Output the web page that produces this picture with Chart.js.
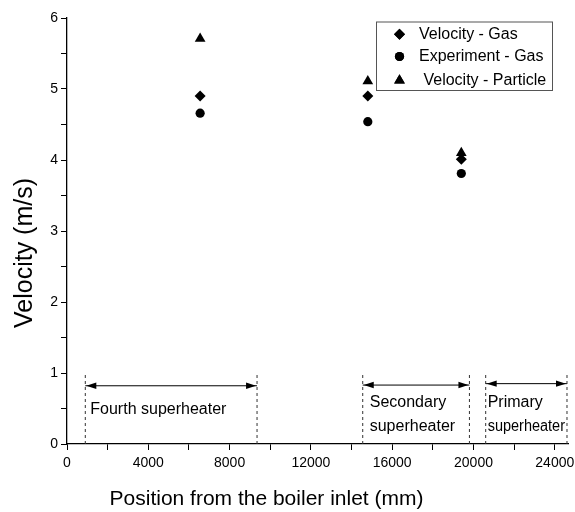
<!DOCTYPE html>
<html><head><meta charset="utf-8">
<script src="https://cdn.jsdelivr.net/npm/chart.js@4/dist/chart.umd.min.js"></script>
<style>html,body{margin:0;padding:0;background:#fff}#wrap{width:575px;height:512px}</style>
</head><body><div id="wrap"><canvas id="c" width="575" height="512"></canvas></div>
<script>
// ---- data ----
const xPositions = [6550, 14800, 19400];
const velocityGas = [4.90, 4.90, 4.01];
const experimentGas = [4.66, 4.54, 3.81];
const velocityParticle = [5.71, 5.11, 4.10];
const seriesNames = ['Velocity - Gas', 'Experiment - Gas', ' Velocity - Particle'];
const regionStart = [900, 14550, 20600];
const regionEnd = [9350, 19800, 24600];
const regionArrowY = [0.82, 0.83, 0.85];
const regionLabels = [['Fourth superheater'], ['Secondary', 'superheater'], ['Primary', 'superheater']];
const xTickValues = [0, 2000, 4000, 6000, 8000, 10000, 12000, 14000, 16000, 18000, 20000, 22000, 24000];
const yTickValues = [0, 0.5, 1, 1.5, 2, 2.5, 3, 3.5, 4, 4.5, 5, 5.5, 6];
const xTitle = 'Position from the boiler inlet (mm)';
const yTitle = 'Velocity (m/s)';
const regionLineTop = 1.0;

// ---- styles ----
const FONT = "'Liberation Sans', Arial, Helvetica, sans-serif";
const pointStyles = ['rectRot', 'circle', 'triangle'];
const pointRadii = [5.5, 4.6, 6.2];

const toPts = (ys) => xPositions.map((x, i) => ({x: x, y: ys[i]}));
const seriesData = [velocityGas, experimentGas, velocityParticle];

const datasets = seriesData.map((ys, i) => ({
  type: 'scatter',
  label: seriesNames[i],
  data: toPts(ys),
  pointStyle: pointStyles[i],
  pointRadius: pointRadii[i],
  backgroundColor: '#000',
  borderColor: '#000',
  borderWidth: 0,
  showLine: false
}));

// dashed region boundary lines
[...regionStart, ...regionEnd].forEach((x) => {
  datasets.push({
    type: 'line', label: '', isAnno: true,
    data: [{x: x, y: 0}, {x: x, y: regionLineTop}],
    borderColor: '#333', borderWidth: 1, borderDash: [3, 3],
    pointRadius: 0, fill: false
  });
});
// arrow shafts
regionStart.forEach((s, i) => {
  datasets.push({
    type: 'line', label: '', isAnno: true,
    data: [{x: s, y: regionArrowY[i]}, {x: regionEnd[i], y: regionArrowY[i]}],
    borderColor: '#000', borderWidth: 1, pointRadius: 0, fill: false
  });
});

const annoPlugin = {
  id: 'anno',
  afterDraw(chart) {
    const {ctx, scales: {x, y}} = chart;
    ctx.save();
    ctx.fillStyle = '#000';
    // arrowheads
    regionStart.forEach((s, i) => {
      const yy = y.getPixelForValue(regionArrowY[i]);
      const x1 = x.getPixelForValue(s), x2 = x.getPixelForValue(regionEnd[i]);
      const L = 10, H = 3.2;
      ctx.beginPath(); ctx.moveTo(x1 + 1, yy); ctx.lineTo(x1 + 1 + L, yy - H); ctx.lineTo(x1 + 1 + L, yy + H); ctx.closePath(); ctx.fill();
      ctx.beginPath(); ctx.moveTo(x2 - 1, yy); ctx.lineTo(x2 - 1 - L, yy - H); ctx.lineTo(x2 - 1 - L, yy + H); ctx.closePath(); ctx.fill();
    });
    // region labels
    ctx.font = '16px ' + FONT;
    ctx.textBaseline = 'middle';
    ctx.textAlign = 'left';
    const firstLineY = [0.49, 0.58, 0.58];
    const textOffset = [5, 7, 2];
    regionLabels.forEach((lines, i) => {
      const x0 = x.getPixelForValue(regionStart[i]) + textOffset[i];
      const xEnd = x.getPixelForValue(regionEnd[i]);
      const y0 = y.getPixelForValue(firstLineY[i]);
      lines.forEach((t, k) => ctx.fillText(t, x0, y0 + k * 24, xEnd - x0 - 2));
    });
    // legend box
    const bx = 376, by = 21.5, bw = 176, bh = 68.5;
    ctx.strokeStyle = '#555'; ctx.lineWidth = 1;
    ctx.strokeRect(bx + 0.5, by + 0.5, bw, bh);
    const rowY = [34.3, 56.5, 80.5];
    seriesNames.forEach((name, i) => {
      Chart.helpers.drawPoint(ctx, {pointStyle: pointStyles[i], radius: pointRadii[i], rotation: 0, borderWidth: 0}, 399.5, rowY[i]);
      ctx.fillStyle = '#000';
      ctx.fill();
      ctx.fillText(name, 419, rowY[i]);
    });
    // axis titles
    ctx.textAlign = 'center';
    ctx.font = '21px ' + FONT;
    ctx.fillText(xTitle, 266.5, 499);
    ctx.translate(25, 253);
    ctx.rotate(-Math.PI / 2);
    ctx.font = '25px ' + FONT;
    ctx.fillText(yTitle, 0, 0);
    ctx.restore();
  }
};

new Chart(document.getElementById('c'), {
  data: {datasets: datasets},
  options: {
    responsive: false,
    devicePixelRatio: 1,
    animation: false,
    layout: {padding: {top: 18, right: 7, left: 0, bottom: 0}},
    plugins: {legend: {display: false}, tooltip: {enabled: false}},
    scales: {
      x: {
        type: 'linear', position: 'bottom', min: 0, max: 24650,
        afterBuildTicks: (s) => { s.ticks = xTickValues.map(v => ({value: v})); },
        afterFit: (s) => { s.height = 68; s.paddingLeft = 0; s.paddingRight = 0; },
        grid: {drawOnChartArea: false, tickLength: 6, color: '#000', tickWidth: 1},
        border: {color: '#000', width: 1.3},
        ticks: {
          autoSkip: false, maxRotation: 0, padding: 5, color: '#000',
          font: {family: FONT, size: 14},
          callback: (v) => (v % 4000 === 0 ? String(v) : '')
        },
        title: {display: false}
      },
      y: {
        type: 'linear', min: 0, max: 6,
        afterBuildTicks: (s) => { s.ticks = yTickValues.map(v => ({value: v})); },
        afterFit: (s) => { s.width = 67; },
        grid: {drawOnChartArea: false, tickLength: 6, color: '#000', tickWidth: 1},
        border: {color: '#000', width: 1.3},
        ticks: {
          autoSkip: false, padding: 3, color: '#000',
          font: {family: FONT, size: 14},
          callback: (v) => (Number.isInteger(v) ? String(v) : '')
        },
        title: {display: false}
      }
    }
  },
  plugins: [annoPlugin]
});
</script>
</body></html>
